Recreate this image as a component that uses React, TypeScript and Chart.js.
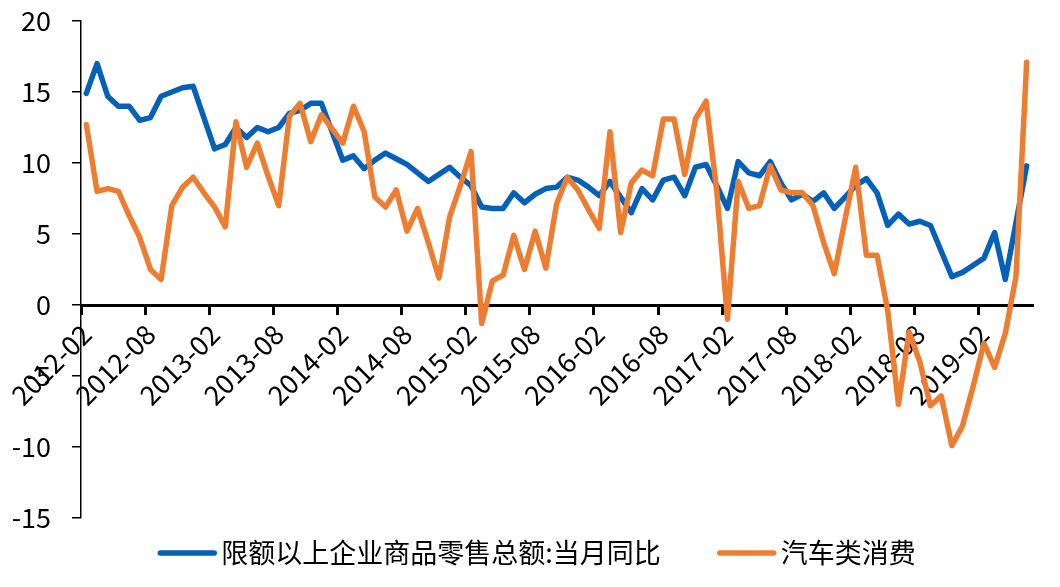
import React, { useEffect, useRef } from 'react';
import { Chart, registerables } from 'chart.js';

Chart.register(...registerables);

// ---- data ----
const START_YEAR = 2012;
const START_MONTH = 2;
const MONTH_COUNT = 89; // 2012-02 .. 2019-06

const MONTHS: string[] = Array.from({ length: MONTH_COUNT }, (_, i) => {
  const m = START_MONTH - 1 + i;
  return `${START_YEAR + Math.floor(m / 12)}-${String((m % 12) + 1).padStart(2, '0')}`;
});

const TICK_LABELS = [
  '2012-02', '2012-08', '2013-02', '2013-08', '2014-02', '2014-08', '2015-02', '2015-08',
  '2016-02', '2016-08', '2017-02', '2017-08', '2018-02', '2018-08', '2019-02',
];

const SERIES_NAMES = ['限额以上企业商品零售总额:当月同比', '汽车类消费'];

const RETAIL_YOY = [
  14.9, 17.0, 14.7, 14.0, 14.0, 13.0, 13.2, 14.7, 15.0, 15.3,
  15.4, 13.2, 11.0, 11.3, 12.5, 11.8, 12.5, 12.2, 12.5, 13.5,
  13.7, 14.2, 14.2, 12.2, 10.2, 10.5, 9.6, 10.2, 10.7, 10.3,
  9.9, 9.3, 8.7, 9.2, 9.7, 9.0, 8.4, 6.9, 6.8, 6.8,
  7.9, 7.2, 7.8, 8.2, 8.3, 9.0, 8.8, 8.3, 7.7, 8.7,
  7.6, 6.5, 8.2, 7.4, 8.8, 9.0, 7.7, 9.7, 9.9, 8.4,
  6.8, 10.1, 9.3, 9.1, 10.1, 8.6, 7.4, 7.8, 7.3, 7.9,
  6.8, 7.6, 8.4, 8.9, 7.9, 5.6, 6.4, 5.7, 5.9, 5.6,
  3.8, 2.0, 2.3, 2.8, 3.3, 5.1, 1.8, 5.8, 9.8,
];

const AUTO_YOY = [
  12.7, 8.0, 8.2, 8.0, 6.3, 4.75, 2.5, 1.8, 7.0, 8.3,
  9.0, 7.9, 6.9, 5.5, 12.9, 9.7, 11.4, 9.1, 7.0, 13.3,
  14.2, 11.5, 13.4, 12.4, 11.4, 14.0, 12.2, 7.6, 6.9, 8.1,
  5.2, 6.8, 4.4, 1.9, 6.2, 8.4, 10.8, -1.3, 1.7, 2.1,
  4.9, 2.5, 5.2, 2.6, 7.1, 9.0, 8.1, 6.7, 5.4, 12.2,
  5.1, 8.6, 9.5, 9.1, 13.1, 13.1, 9.2, 13.1, 14.35, 8.0,
  -1.0, 8.7, 6.8, 7.0, 9.8, 8.1, 7.9, 7.9, 7.0, 4.4,
  2.2, 6.0, 9.7, 3.5, 3.5, -0.4, -7.0, -1.9, -4.0, -7.1,
  -6.4, -9.9, -8.5, -5.7, -2.7, -4.4, -2.0, 2.0, 17.1,
];

const Y_MIN = -15;
const Y_MAX = 20;
const Y_STEP = 5;

// ---- styles ----
const BLUE = '#0561B8';
const ORANGE = '#ED7D31';
const FONT_FAMILY = '"Noto Sans CJK SC", "Noto Sans", sans-serif';
const W = 1060;
const H = 587;
const LINE_WIDTH = 5.5;

const lineLegend = {
  id: 'lineLegend',
  afterDraw(chart: any) {
    const ctx = chart.ctx as CanvasRenderingContext2D;
    const fontSize = 27;
    const lineLen = 58;
    const gapText = 5;
    const gapItem = 57;
    const centerX = 537;
    const centerY = 553;
    ctx.save();
    ctx.font = `${fontSize}px ${FONT_FAMILY}`;
    const items = chart.data.datasets.map((ds: any) => ({ text: ds.label, color: ds.borderColor }));
    const widths = items.map((it: any) => ctx.measureText(it.text).width);
    const total =
      items.reduce((s: number, _: any, i: number) => s + lineLen + gapText + widths[i], 0) +
      gapItem * (items.length - 1);
    let x = centerX - total / 2;
    items.forEach((it: any, i: number) => {
      ctx.strokeStyle = it.color;
      ctx.lineWidth = LINE_WIDTH;
      ctx.lineCap = 'round';
      ctx.beginPath();
      ctx.moveTo(x + 2, centerY);
      ctx.lineTo(x + lineLen - 2, centerY);
      ctx.stroke();
      x += lineLen + gapText;
      ctx.fillStyle = '#000';
      ctx.textAlign = 'left';
      ctx.textBaseline = 'middle';
      ctx.fillText(it.text, x, centerY);
      x += widths[i] + gapItem;
    });
    ctx.restore();
  },
};

export default function App() {
  const canvasRef = useRef<HTMLCanvasElement | null>(null);

  useEffect(() => {
    if (!canvasRef.current) return;
    const chart = new Chart(canvasRef.current, {
      type: 'line',
      data: {
        labels: MONTHS,
        datasets: [
          {
            label: SERIES_NAMES[0],
            data: RETAIL_YOY,
            borderColor: BLUE,
            backgroundColor: BLUE,
            borderWidth: LINE_WIDTH,
            pointRadius: 0,
            tension: 0,
            borderJoinStyle: 'round',
            borderCapStyle: 'round',
            order: 2,
          },
          {
            label: SERIES_NAMES[1],
            data: AUTO_YOY,
            borderColor: ORANGE,
            backgroundColor: ORANGE,
            borderWidth: LINE_WIDTH,
            pointRadius: 0,
            tension: 0,
            borderJoinStyle: 'round',
            borderCapStyle: 'round',
            order: 1,
          },
        ],
      },
      options: {
        animation: false,
        responsive: false,
        maintainAspectRatio: false,
        layout: { padding: { left: 0, right: 28, top: 21, bottom: 69 } },
        plugins: {
          legend: { display: false },
          tooltip: { enabled: false },
        },
        scales: {
          x: {
            type: 'category',
            position: { y: 0 } as any,
            offset: true,
            grid: {
              offset: true,
              drawOnChartArea: false,
              drawTicks: true,
              tickLength: 8,
              lineWidth: 3,
              color: (c: any) => (c.index !== undefined && c.index % 6 === 0 ? '#000' : 'rgba(0,0,0,0)'),
            },
            border: { display: true, color: '#000', width: 3 },
            ticks: {
              autoSkip: false,
              minRotation: 45,
              maxRotation: 45,
              padding: 5,
              color: '#000',
              font: { family: FONT_FAMILY, size: 27 },
              callback: (_v: any, i: number) => (TICK_LABELS.includes(MONTHS[i]) ? MONTHS[i] : ''),
            },
          },
          y: {
            min: Y_MIN,
            max: Y_MAX,
            afterFit: (s: any) => {
              s.width = 81;
              s.paddingTop = 0;
              s.paddingBottom = 0;
            },
            grid: {
              drawOnChartArea: false,
              drawTicks: true,
              tickLength: 9,
              lineWidth: 1.5,
              color: '#000',
            },
            border: { display: true, color: '#000', width: 1.5 },
            ticks: {
              stepSize: Y_STEP,
              padding: 21,
              color: '#000',
              font: { family: FONT_FAMILY, size: 27 },
              callback: (v: any) => String(v),
            },
          },
        },
      },
      plugins: [lineLegend],
    });
    return () => chart.destroy();
  }, []);

  return (
    <div style={{ position: 'absolute', left: 0, top: 0, width: W, height: H, background: '#fff' }}>
      <canvas ref={canvasRef} width={W} height={H} style={{ display: 'block' }} />
    </div>
  );
}
